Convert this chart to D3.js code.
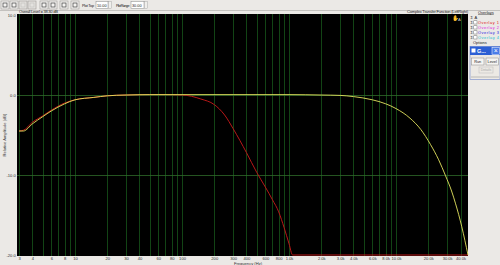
<!DOCTYPE html>
<html>
<head>
<meta charset="utf-8">
<script src="https://cdn.jsdelivr.net/npm/d3@7"></script>
<style>
  body { margin: 0; background: #ebe9e6; }
  svg { display: block; font-family: "Liberation Sans", Arial, sans-serif; }
</style>
</head>
<body>
<div id="chart"></div>
<script>
// measured curve (yellow) and overlay 1 (red)
const mainFreq = [3, 3.3, 4, 5, 6, 8, 10, 15, 20, 30, 50, 100, 300, 1000, 2000, 3000, 4000, 6000, 8000, 10000, 13500, 17000, 21000, 25000, 29000, 33000, 36000, 41000, 44000, 47000];
const mainDb = [-4.5, -4.5, -3.6, -2.7, -2.0, -1.1, -0.6, -0.3, -0.1, 0.0, 0.05, 0.05, 0.05, 0.05, 0.0, -0.05, -0.2, -0.6, -1.1, -1.7, -2.9, -4.3, -6.2, -8.1, -10.1, -12.0, -13.6, -16.4, -18.2, -20];

const overlayFreq = [3, 3.3, 4, 5, 6, 8, 10, 15, 20, 30, 60, 100, 150, 200, 250, 300, 400, 500, 600, 700, 800, 900, 1000, 1080, 47000];
const overlayDb = [-4.5, -4.4, -3.4, -2.6, -1.9, -1.0, -0.6, -0.3, -0.1, 0.0, 0.05, 0.0, -0.5, -1.2, -2.5, -4.2, -7.2, -9.7, -11.5, -13.1, -14.6, -16.6, -18.6, -20, -20];

const xTickValues = [3, 4, 6, 8, 10, 20, 30, 40, 60, 80, 100, 200, 300, 400, 600, 800, 1000, 2000, 3000, 4000, 6000, 8000, 10000, 20000, 30000, 40000];
const xTickLabels = ["3", "4", "6", "8", "10", "20", "30", "40", "60", "80", "100", "200", "300", "400", "600", "800", "1.0k", "2.0k", "3.0k", "4.0k", "6.0k", "8.0k", "10.0k", "20.0k", "30.0k", "40.0k"];
const yTickValues = [10, 0, -10, -20];
const yTickLabels = ["10.0", "0.0", "-10.0", "-20.0"];

const overlayNames = ["Overlay 1", "Overlay 2", "Overlay 3", "Overlay 4"];
const overlayColors = ["#e01010", "#e020e0", "#2020e0", "#10c0d0"];

// grid lines at 1..9 per decade
const gridFreqs = [];
[1, 10, 100, 1000, 10000].forEach(dec => {
  for (let m = 1; m <= 9; m++) {
    const f = dec * m;
    if (f >= 3 && f <= 45000) gridFreqs.push(f);
  }
});

const W = 500, H = 265;
const plot = {left: 17, right: 468, top: 14, bottom: 256};
const small = 4.1;

const svg = d3.select('#chart').append('svg')
  .attr('width', W)
  .attr('height', H);

svg.append('rect').attr('width', W).attr('height', H).attr('fill', '#ebe9e6');

// toolbar
const tb = svg.append('g').attr('class', 'toolbar');
const btnX = [1, 10, 19, 28, 40, 49, 60, 71];
btnX.forEach((x, i) => {
  const off = i === 2 || i === 3;
  tb.append('rect')
    .attr('x', x).attr('y', 1).attr('width', 8).attr('height', 8)
    .attr('fill', off ? '#e4e2df' : '#f4f3f1')
    .attr('stroke', '#9a9894').attr('stroke-width', 0.6);
  tb.append('rect')
    .attr('x', x + 2).attr('y', 3).attr('width', 4).attr('height', 4)
    .attr('fill', 'none')
    .attr('stroke', off ? '#c4c2bf' : '#404040').attr('stroke-width', 0.7);
});
tb.append('text').attr('x', 82).attr('y', 6.8).attr('font-size', 3.8).attr('fill', '#222')
  .attr('textLength', 12).text('Plot Top');
tb.append('rect').attr('x', 96).attr('y', 1.5).attr('width', 12).attr('height', 7).attr('fill', '#fff').attr('stroke', '#888').attr('stroke-width', 0.5);
tb.append('text').attr('x', 97).attr('y', 6.6).attr('font-size', 3.8).attr('fill', '#222').text('10.00');
tb.append('rect').attr('x', 108.5).attr('y', 1.5).attr('width', 3).attr('height', 7).attr('fill', '#f0efec').attr('stroke', '#999').attr('stroke-width', 0.4);
tb.append('text').attr('x', 116).attr('y', 6.8).attr('font-size', 3.8).attr('fill', '#222')
  .attr('textLength', 13.5).text('Plot Range');
tb.append('rect').attr('x', 131).attr('y', 1.5).attr('width', 13).attr('height', 7).attr('fill', '#fff').attr('stroke', '#888').attr('stroke-width', 0.5);
tb.append('text').attr('x', 132).attr('y', 6.6).attr('font-size', 3.8).attr('fill', '#222').text('30.00');
tb.append('rect').attr('x', 144.5).attr('y', 1.5).attr('width', 3).attr('height', 7).attr('fill', '#f0efec').attr('stroke', '#999').attr('stroke-width', 0.4);
svg.append('line').attr('x1', 0).attr('x2', W).attr('y1', 10.5).attr('y2', 10.5).attr('stroke', '#a8a6a2').attr('stroke-width', 0.6);

// scales
const x = d3.scaleLog().domain([2.87, 47000]).range([plot.left, plot.right]);
const y = d3.scaleLinear().domain([-20, 10]).range([255, 15]);

svg.append('rect')
  .attr('x', plot.left).attr('y', plot.top)
  .attr('width', plot.right - plot.left).attr('height', plot.bottom - plot.top)
  .attr('fill', '#000');

// grid
svg.append('g').selectAll('line').data(gridFreqs).join('line')
  .attr('x1', d => Math.round(x(d)) + 0.5).attr('x2', d => Math.round(x(d)) + 0.5)
  .attr('y1', plot.top).attr('y2', plot.bottom)
  .attr('stroke', '#17551b').attr('stroke-width', 0.8);
svg.append('g').selectAll('line').data([0, -10]).join('line')
  .attr('x1', plot.left).attr('x2', plot.right)
  .attr('y1', d => Math.round(y(d)) + 0.5).attr('y2', d => Math.round(y(d)) + 0.5)
  .attr('stroke', '#2f6a2a').attr('stroke-width', 0.8);

// axes (labels only)
const xAxis = d3.axisBottom(x).tickValues(xTickValues)
  .tickFormat((d, i) => xTickLabels[i]).tickSize(0).tickPadding(1.2);
svg.append('g').attr('class', 'x axis')
  .attr('transform', `translate(0,${plot.bottom})`)
  .call(xAxis)
  .call(g => g.select('.domain').remove())
  .selectAll('text').attr('font-size', small).attr('fill', '#333').attr('font-family', '"Liberation Sans", Arial, sans-serif');

const yAxis = d3.axisLeft(y).tickValues(yTickValues)
  .tickFormat((d, i) => yTickLabels[i]).tickSize(0).tickPadding(1.2);
svg.append('g').attr('class', 'y axis')
  .attr('transform', `translate(${plot.left},0)`)
  .call(yAxis)
  .call(g => g.select('.domain').remove())
  .selectAll('text').attr('font-size', small).attr('fill', '#333').attr('font-family', '"Liberation Sans", Arial, sans-serif');

svg.append('text')
  .attr('transform', `translate(6,${(plot.top + plot.bottom) / 2}) rotate(-90)`)
  .attr('text-anchor', 'middle').attr('font-size', small).attr('fill', '#333')
  .text('Relative Amplitude (dB)');
svg.append('text')
  .attr('x', 248).attr('y', 264.8)
  .attr('text-anchor', 'middle').attr('font-size', small).attr('fill', '#333')
  .text('Frequency (Hz)');

// titles
svg.append('text').attr('x', 19).attr('y', 13.3).attr('font-size', small).attr('fill', '#222')
  .attr('textLength', 39).text('Overall Level = 38.30 dB');
svg.append('text').attr('x', 407).attr('y', 13.3).attr('font-size', small).attr('fill', '#222')
  .attr('textLength', 61).text('Complex Transfer Function (LeftRight)');

// curves
const line = d3.line()
  .x(d => x(d[0]))
  .y(d => Math.min(y(d[1]), 255.5))
  .curve(d3.curveMonotoneX);

svg.append('path')
  .datum(d3.zip(overlayFreq, overlayDb))
  .attr('fill', 'none').attr('stroke', '#b81818').attr('stroke-width', 1)
  .attr('d', line);
svg.append('path')
  .datum(d3.zip(mainFreq, mainDb))
  .attr('fill', 'none').attr('stroke', '#e4e460').attr('stroke-width', 0.9)
  .attr('d', line);

// small cursor icon in plot
svg.append('text').attr('x', 452).attr('y', 20).attr('font-size', 5.5).attr('fill', '#ddd').text('✋');
svg.append('text').attr('x', 458).attr('y', 21).attr('font-size', 4).attr('fill', '#ccc').text('A');

// right side panel
const panel = svg.append('g').attr('class', 'panel');
panel.append('text').attr('x', 478).attr('y', 13.5).attr('font-size', 4).attr('fill', '#222')
  .attr('text-decoration', 'underline').text('Overlays');
panel.append('text').attr('x', 470.5).attr('y', 18.5).attr('font-size', 4).attr('fill', '#222').text('Σ');
panel.append('text').attr('x', 474.5).attr('y', 18.5).attr('font-size', 4).attr('fill', '#222').text('A');
overlayNames.forEach((name, i) => {
  const yy = 24 + i * 5;
  panel.append('text').attr('x', 470.5).attr('y', yy).attr('font-size', 4).attr('fill', '#222').text('Σ');
  panel.append('rect').attr('x', 473.8).attr('y', yy - 3.2).attr('width', 3.2).attr('height', 3.2)
    .attr('fill', '#fff').attr('stroke', '#555').attr('stroke-width', 0.4);
  panel.append('text').attr('x', 478).attr('y', yy).attr('font-size', 3.9).attr('fill', overlayColors[i])
    .attr('textLength', 21).text(name);
});
panel.append('text').attr('x', 473).attr('y', 44).attr('font-size', 4).attr('fill', '#222').text('Options');

// little dialog
panel.append('rect').attr('x', 470).attr('y', 46.5).attr('width', 30).attr('height', 33)
  .attr('fill', '#ece9e4').attr('stroke', '#6f86c8').attr('stroke-width', 0.6);
panel.append('rect').attr('x', 470).attr('y', 46.5).attr('width', 30).attr('height', 8.5).attr('fill', '#2c5fd4');
panel.append('rect').attr('x', 471.5).attr('y', 48.5).attr('width', 4).attr('height', 4).attr('fill', '#fff');
panel.append('text').attr('x', 477).attr('y', 53.2).attr('font-size', 5.5).attr('fill', '#fff').attr('font-weight', 'bold').text('G...');
panel.append('rect').attr('x', 492).attr('y', 47.3).attr('width', 7.3).attr('height', 7).attr('fill', '#4a7ce8').attr('stroke', '#fff').attr('stroke-width', 0.5);
panel.append('text').attr('x', 495.7).attr('y', 53.3).attr('text-anchor', 'middle').attr('font-size', 7).attr('fill', '#fff').text('×');
[[471.5, 'Run'], [486, 'Level']].forEach(([bx, label]) => {
  panel.append('rect').attr('x', bx).attr('y', 58).attr('width', 12.5).attr('height', 7)
    .attr('fill', '#f6f5f2').attr('stroke', '#888').attr('stroke-width', 0.5);
  panel.append('text').attr('x', bx + 6.2).attr('y', 62.8).attr('text-anchor', 'middle').attr('font-size', 3.9).attr('fill', '#222').text(label);
});
panel.append('rect').attr('x', 479).attr('y', 67).attr('width', 14).attr('height', 6)
  .attr('fill', '#ece9e4').attr('stroke', '#bbb').attr('stroke-width', 0.5);
panel.append('text').attr('x', 486).attr('y', 71.3).attr('text-anchor', 'middle').attr('font-size', 3.5).attr('fill', '#aaa').text('Details');
panel.append('line').attr('x1', 471).attr('x2', 499).attr('y1', 77).attr('y2', 77).attr('stroke', '#888').attr('stroke-width', 0.5);
</script>
</body>
</html>
